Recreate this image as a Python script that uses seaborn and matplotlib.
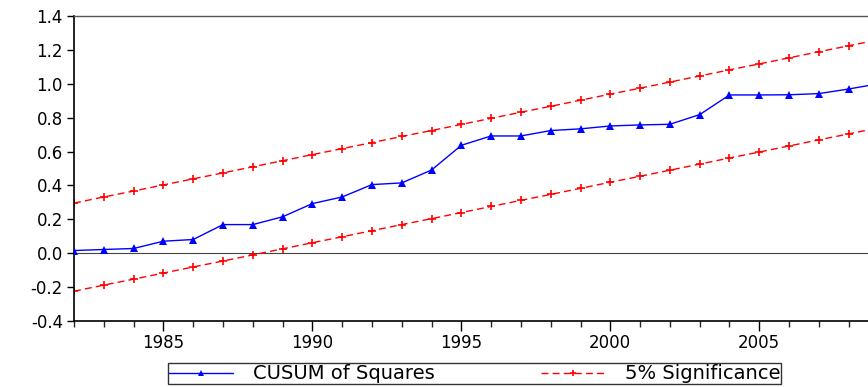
import numpy as np
import pandas as pd
import seaborn as sns
import matplotlib.pyplot as plt
from matplotlib.ticker import MultipleLocator

# Données (CUSUM of Squares, 1982-2009)
years = list(range(1982, 2010))
cusum_sq = [0.016, 0.022, 0.028, 0.071, 0.081, 0.169, 0.169, 0.215, 0.293, 0.332,
            0.405, 0.415, 0.491, 0.637, 0.692, 0.692, 0.724, 0.734, 0.751, 0.757,
            0.761, 0.818, 0.934, 0.934, 0.935, 0.942, 0.969, 1.000]
upper = [0.296, 0.332, 0.367, 0.403, 0.439, 0.474, 0.510, 0.546, 0.582, 0.617,
         0.653, 0.689, 0.724, 0.760, 0.796, 0.832, 0.867, 0.903, 0.939, 0.974,
         1.010, 1.046, 1.082, 1.117, 1.153, 1.189, 1.224, 1.260]
lower = [-0.224, -0.188, -0.153, -0.117, -0.081, -0.046, -0.010, 0.026, 0.062, 0.097,
         0.133, 0.169, 0.204, 0.240, 0.276, 0.312, 0.347, 0.383, 0.419, 0.454,
         0.490, 0.526, 0.562, 0.597, 0.633, 0.669, 0.704, 0.740]

df = pd.DataFrame({'year': years, 'cusum': cusum_sq, 'upper': upper, 'lower': lower})

sns.set_style('white')
plt.rcParams['font.family'] = ['DejaVu Sans']
plt.rcParams['text.color'] = 'black'

fig = plt.figure(figsize=(8.68, 3.87), dpi=100)
ax = fig.add_axes([0.0853, 0.1705, 0.9147, 0.7882])

ax.axhline(0, color='#444444', lw=0.8, zorder=1)

sns.lineplot(data=df, x='year', y='cusum', ax=ax, color='blue', lw=1,
             marker='^', markersize=6, markeredgecolor='blue', markeredgewidth=0,
             label='CUSUM of Squares', zorder=3)
sns.lineplot(data=df, x='year', y='upper', ax=ax, color='red', lw=1,
             marker='+', markersize=6, markeredgecolor='red', markeredgewidth=1.2,
             label='5% Significance', zorder=2)
sns.lineplot(data=df, x='year', y='lower', ax=ax, color='red', lw=1,
             marker='+', markersize=6, markeredgecolor='red', markeredgewidth=1.2,
             label='_nolegend_', zorder=2)
for l in ax.lines:
    if l.get_color() == 'red':
        l.set_linestyle((0, (5, 3)))

ax.set_xlim(1982, 2008.65)
ax.set_ylim(-0.4, 1.4)
ax.set_xlabel('')
ax.set_ylabel('')
ax.xaxis.set_major_locator(MultipleLocator(5))
ax.xaxis.set_minor_locator(MultipleLocator(1))
yt = np.arange(-0.4, 1.41, 0.2)
ax.set_yticks(yt)
ax.set_yticklabels([f'{v:.1f}' for v in yt])

ax.tick_params(axis='y', which='major', direction='out', length=5, width=1,
               labelsize=12, left=True, pad=3, colors='black')
ax.tick_params(axis='x', which='major', direction='out', length=7, width=1,
               labelsize=12, bottom=True, pad=2, colors='black')
ax.tick_params(axis='x', which='minor', direction='out', length=4, width=1, bottom=True)

for side in ['left', 'bottom']:
    ax.spines[side].set_color('black')
    ax.spines[side].set_linewidth(1.2)
ax.spines['top'].set_color('#555555')
ax.spines['top'].set_linewidth(1.0)
ax.spines['right'].set_visible(False)

leg = ax.legend(loc='center', bbox_to_anchor=(0.547, 0.034),
                bbox_transform=fig.transFigure, ncol=2, fontsize=14, frameon=True,
                fancybox=False, edgecolor='black', handlelength=3.3,
                columnspacing=5.5, borderpad=0.05, handletextpad=1.0,
                borderaxespad=0.3, markerscale=0.8)
leg.get_frame().set_linewidth(1.0)
for t in leg.get_texts():
    t.set_color('black')

fig.savefig('out.png', dpi=100)
